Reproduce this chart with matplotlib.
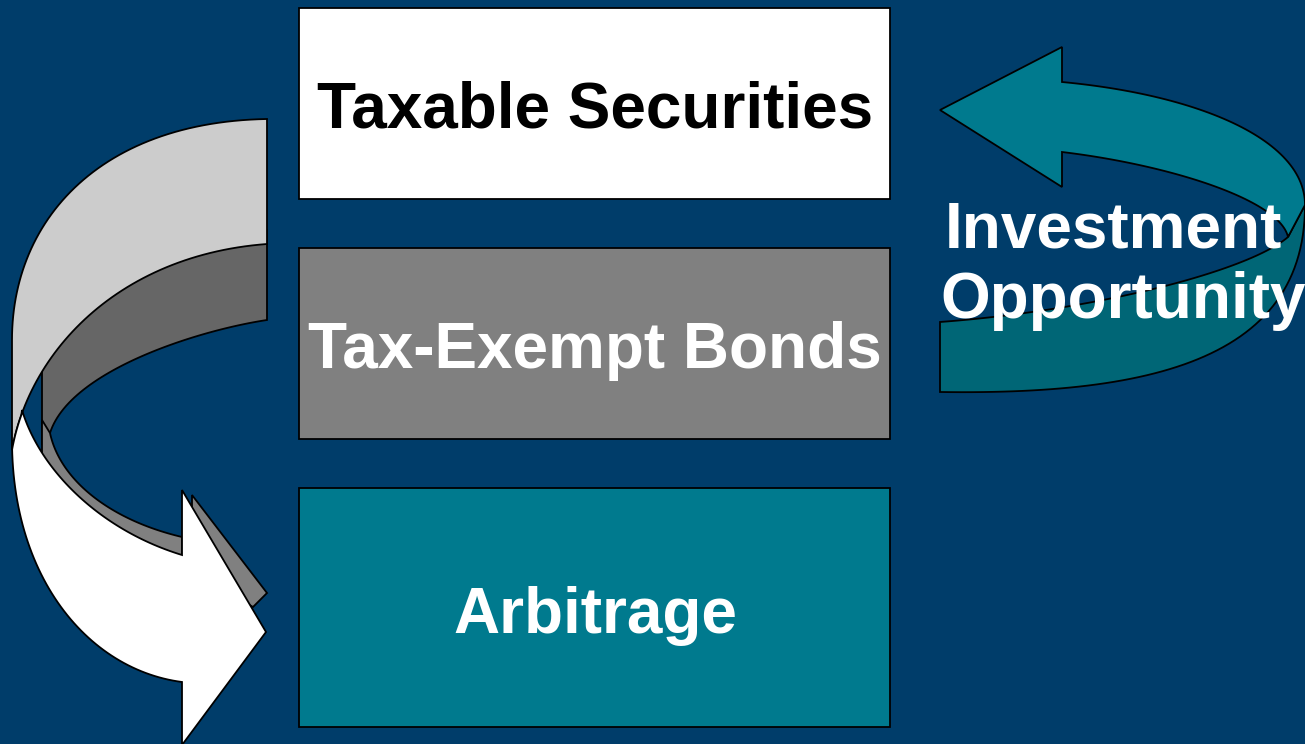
import numpy as np
import matplotlib
matplotlib.use('Agg')
from matplotlib import pyplot as plt
from matplotlib.patches import Polygon, Rectangle

# boxes: label, text colour, fill colour
labels = ["Taxable Securities", "Tax-Exempt Bonds", "Arbitrage"]
text_colors = ["black", "white", "white"]
box_colors = ["#FFFFFF", "#808080", "#007A8E"]
box_top = [8, 248, 488]
box_bottom = [199, 439, 727]
text_base = [128, 368, 633]
side_text = ["Investment", "Opportunity"]

bg = "#003D6A"
W, H = 1305, 744


def bez(p0, p1, p2, p3, n=60):
    t = np.linspace(0, 1, n)[:, None]
    p0, p1, p2, p3 = [np.array(p, float) for p in (p0, p1, p2, p3)]
    return (1-t)**3*p0 + 3*(1-t)**2*t*p1 + 3*(1-t)*t**2*p2 + t**3*p3


def pts(*parts):
    out = []
    for p in parts:
        p = np.array(p, float)
        if p.ndim == 1:
            p = p[None, :]
        out.append(p)
    return np.vstack(out)


def shape(ax, xy, color, z):
    ax.add_patch(Polygon(xy, closed=True, facecolor=color, edgecolor="black",
                         linewidth=1.3, joinstyle="miter", zorder=z))


fig = plt.figure(figsize=(W/100, H/100), dpi=100)
fig.patch.set_facecolor(bg)
ax = fig.add_axes([0, 0, 1, 1])
ax.set_xlim(0, W)
ax.set_ylim(H, 0)
ax.axis("off")

# boxes
for i in range(3):
    ax.add_patch(Rectangle((299, box_top[i]), 591, box_bottom[i]-box_top[i],
                           facecolor=box_colors[i], edgecolor="black", linewidth=1.3, zorder=2))
    ax.text(595, text_base[i], labels[i], color=text_colors[i], ha="center", va="baseline",
            fontsize=46, fontweight="bold", family="Liberation Sans", zorder=3)

# left curved arrow (3D ribbon)
light_edge = bez((12, 450), (30, 350), (120, 255), (267, 244))
dark_inner = bez((267, 320), (200, 330), (70, 370), (50, 433))

dark = pts((42, 445), (42, 330), (120, 230), (267, 230), (267, 320), dark_inner)
shape(ax, dark, "#666666", 4)

strip = pts((42, 420), (50, 433), bez((50, 433), (60, 480), (110, 520), (182, 537)),
            (182, 555), (100, 565), (42, 475))
shape(ax, strip, "#808080", 5)

shadow = pts((192, 495), (267, 593), (253, 607), (192, 570))
shape(ax, shadow, "#808080", 5)

light = pts(bez((267, 119), (100, 122), (12, 220), (12, 340)), light_edge)
shape(ax, light, "#CCCCCC", 6)

white = pts(bez((22, 410), (40, 470), (100, 530), (182, 555)), (182, 490), (266, 632),
            (182, 745), bez((182, 682), (90, 670), (12, 580), (12, 440)),
            light_edge[(light_edge[:, 1] > 410)])
shape(ax, white, "#FFFFFF", 6)

# right curved arrow
tdark = pts(bez((1305, 205), (1305, 360), (1150, 395), (940, 392)), (940, 322),
            bez((940, 322), (1100, 310), (1250, 270), (1288, 237)))
shape(ax, tdark, "#006676", 4)

tlight = pts((940, 110), (1062, 47), bez((1062, 82), (1200, 95), (1305, 140), (1305, 205)),
             (1288, 237), bez((1062, 152), (1170, 165), (1280, 200), (1288, 237))[::-1],
             (1062, 187))
shape(ax, tlight, "#007A8E", 5)

ax.text(1113, 247, side_text[0], color="white", ha="center", va="baseline",
        fontsize=46, fontweight="bold", family="Liberation Sans", zorder=8)
ax.text(1123, 318, side_text[1], color="white", ha="center", va="baseline",
        fontsize=46, fontweight="bold", family="Liberation Sans", zorder=8)

plt.savefig("out.png", dpi=100, facecolor=bg)
plt.close()
